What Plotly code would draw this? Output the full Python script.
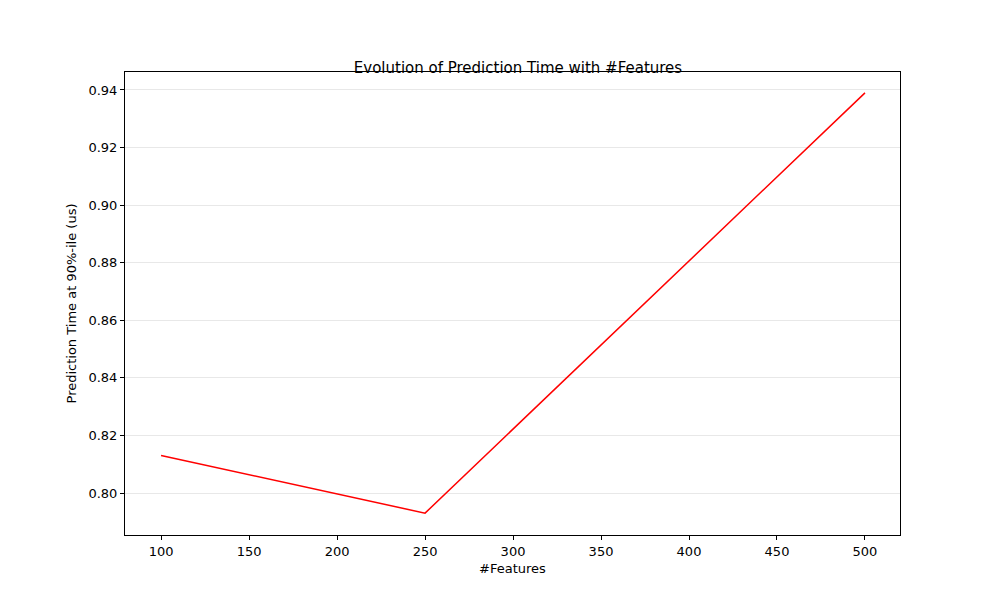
import plotly.graph_objects as go

n_features = [100, 250, 500]
pred_time_90 = [0.813, 0.793, 0.939]

fig = go.Figure()
fig.add_trace(go.Scatter(x=n_features, y=pred_time_90, mode="lines",
                         line=dict(color="red", width=1.5)))

axis_common = dict(showline=True, linecolor="black", linewidth=1, mirror=True,
                   ticks="outside", ticklen=4, tickcolor="black",
                   tickfont=dict(size=13, color="black"), zeroline=False)

fig.update_layout(
    width=1000, height=600,
    paper_bgcolor="white", plot_bgcolor="white",
    font=dict(family="DejaVu Sans", color="black"),
    title=dict(text="Evolution of Prediction Time with #Features", x=0.51, y=0.91,
               xanchor="center", font=dict(size=15)),
    margin=dict(l=117, r=108, t=64, b=73),
    showlegend=False,
    xaxis=dict(range=[79.5, 519.9], tickvals=list(range(100, 501, 50)),
               showgrid=False, title=dict(text="#Features", font=dict(size=13), standoff=6),
               **axis_common),
    yaxis=dict(range=[0.78541, 0.94625], tickvals=[0.80, 0.82, 0.84, 0.86, 0.88, 0.90, 0.92, 0.94],
               tickformat=".2f", showgrid=True, gridcolor="#e8e8e8",
               title=dict(text="Prediction Time at 90%-ile (us)", font=dict(size=13), standoff=8),
               **axis_common),
)

fig.write_html("out.html")
